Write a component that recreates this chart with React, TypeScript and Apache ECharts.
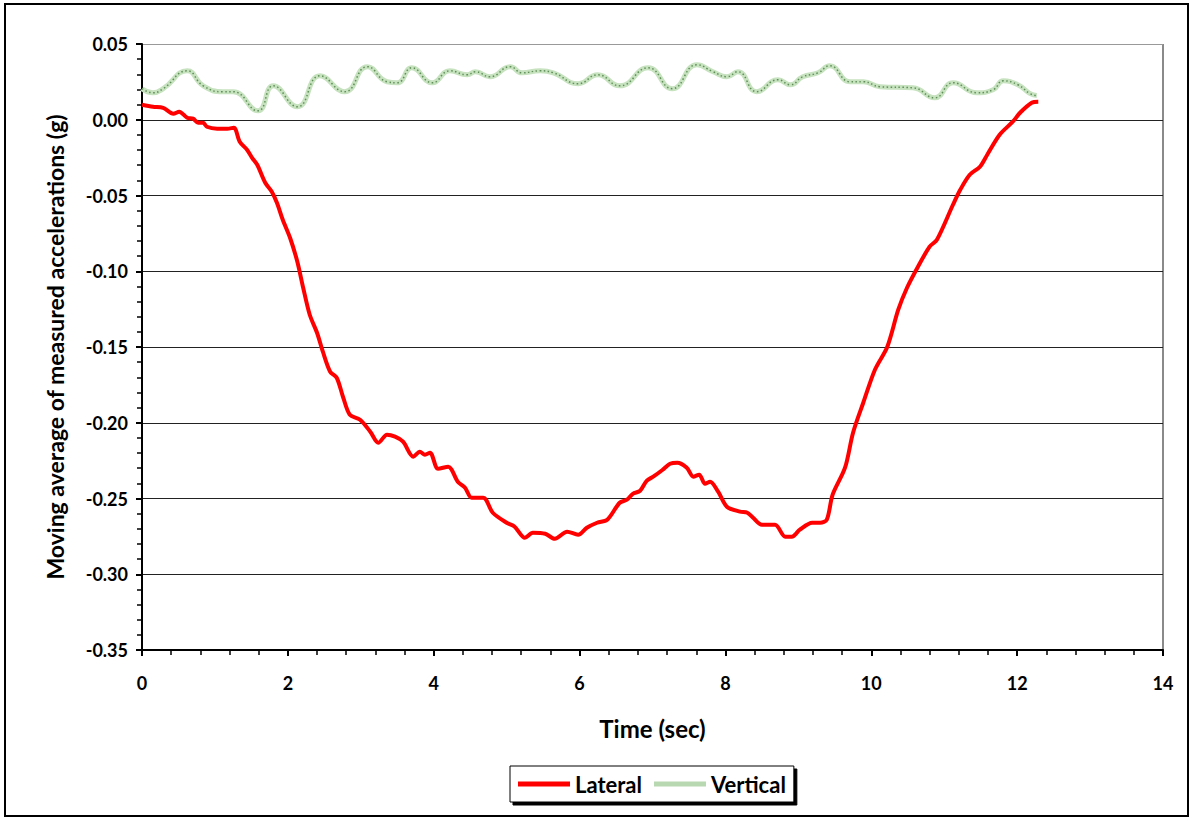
import React, { useEffect, useRef } from "react";
import * as echarts from "echarts";

const lateralTime = [0.00, 0.15, 0.29, 0.43, 0.51, 0.62, 0.70, 0.77, 0.84, 0.89, 1.03, 1.17, 1.26, 1.34, 1.44, 1.51, 1.58, 1.69, 1.78, 1.85, 1.93, 2.03, 2.13, 2.21, 2.30, 2.40, 2.48, 2.58, 2.67, 2.76, 2.85, 2.99, 3.13, 3.24, 3.36, 3.47, 3.58, 3.72, 3.81, 3.88, 3.95, 4.06, 4.20, 4.33, 4.43, 4.52, 4.68, 4.81, 5.00, 5.11, 5.25, 5.36, 5.53, 5.66, 5.83, 5.98, 6.10, 6.24, 6.38, 6.55, 6.65, 6.73, 6.83, 6.92, 7.01, 7.14, 7.24, 7.34, 7.47, 7.56, 7.64, 7.72, 7.79, 7.90, 8.02, 8.20, 8.30, 8.38, 8.50, 8.68, 8.82, 8.91, 9.02, 9.19, 9.30, 9.39, 9.47, 9.64, 9.75, 9.89, 10.05, 10.22, 10.37, 10.49, 10.64, 10.80, 10.90, 11.12, 11.22, 11.35, 11.49, 11.59, 11.76, 11.94, 12.04, 12.20, 12.29];
const lateralValue = [0.0099, 0.0086, 0.0079, 0.0040, 0.0053, 0.0013, 0.0007, -0.0020, -0.0020, -0.0046, -0.0059, -0.0059, -0.0053, -0.0145, -0.0198, -0.0251, -0.0297, -0.0416, -0.0475, -0.0548, -0.0660, -0.0779, -0.0937, -0.1109, -0.1287, -0.1406, -0.1531, -0.1663, -0.1703, -0.1835, -0.1947, -0.1980, -0.2059, -0.2132, -0.2079, -0.2092, -0.2125, -0.2224, -0.2191, -0.2211, -0.2198, -0.2304, -0.2290, -0.2389, -0.2429, -0.2495, -0.2495, -0.2594, -0.2660, -0.2686, -0.2759, -0.2726, -0.2733, -0.2766, -0.2719, -0.2739, -0.2693, -0.2660, -0.2640, -0.2528, -0.2508, -0.2469, -0.2449, -0.2383, -0.2356, -0.2310, -0.2271, -0.2264, -0.2297, -0.2356, -0.2343, -0.2403, -0.2389, -0.2455, -0.2554, -0.2587, -0.2594, -0.2627, -0.2673, -0.2673, -0.2752, -0.2752, -0.2706, -0.2660, -0.2660, -0.2640, -0.2475, -0.2297, -0.2066, -0.1868, -0.1650, -0.1498, -0.1254, -0.1109, -0.0970, -0.0838, -0.0792, -0.0561, -0.0462, -0.0363, -0.0310, -0.0231, -0.0099, -0.0013, 0.0046, 0.0112, 0.0119];

const verticalTime = [0.00, 0.15, 0.29, 0.62, 0.84, 1.11, 1.25, 1.59, 1.80, 2.13, 2.44, 2.78, 3.09, 3.36, 3.50, 3.70, 3.98, 4.22, 4.46, 4.57, 4.77, 5.05, 5.21, 5.46, 5.64, 5.98, 6.25, 6.55, 6.94, 7.27, 7.61, 7.83, 8.02, 8.17, 8.43, 8.72, 8.89, 9.06, 9.27, 9.43, 9.71, 9.89, 10.12, 10.57, 10.87, 11.12, 11.45, 11.67, 11.81, 12.01, 12.18, 12.27];
const verticalValue = [0.0205, 0.0178, 0.0205, 0.0323, 0.0224, 0.0185, 0.0185, 0.0059, 0.0224, 0.0086, 0.0290, 0.0185, 0.0350, 0.0251, 0.0244, 0.0343, 0.0244, 0.0323, 0.0297, 0.0317, 0.0284, 0.0350, 0.0310, 0.0323, 0.0310, 0.0238, 0.0297, 0.0224, 0.0343, 0.0205, 0.0363, 0.0317, 0.0284, 0.0317, 0.0185, 0.0264, 0.0231, 0.0284, 0.0310, 0.0356, 0.0251, 0.0251, 0.0218, 0.0211, 0.0145, 0.0244, 0.0178, 0.0198, 0.0257, 0.0231, 0.0172, 0.0160];

const FONT = "Lato";

export default function App() {
  const ref = useRef<HTMLDivElement>(null);
  useEffect(() => {
    if (!ref.current) return;
    const chart = echarts.init(ref.current, null, { renderer: "svg" });
    const lateral = lateralTime.map((t, i) => [t, lateralValue[i]]);
    const vertical = verticalTime.map((t, i) => [t, verticalValue[i]]);
    chart.setOption({
      animation: false,
      backgroundColor: "#ffffff",
      grid: { left: 142, top: 44, right: 31, bottom: 171, containLabel: false },
      graphic: [
        {
          type: "rect",
          shape: { x: 5, y: 4, width: 1183, height: 812 },
          style: { fill: "none", stroke: "#000", lineWidth: 2 },
          silent: true,
        },
        {
          type: "line",
          shape: { x1: 1163, y1: 44, x2: 1163, y2: 650 },
          style: { stroke: "#8a8a8a", lineWidth: 2 },
          silent: true,
        },
      ],
      legend: {
        left: 510,
        top: 766,
        padding: [7, 8, 7, 8],
        itemGap: 12,
        itemWidth: 52,
        itemHeight: 5,
        borderColor: "#000",
        borderWidth: 1,
        backgroundColor: "#fff",
        shadowColor: "rgba(0,0,0,1)",
        shadowOffsetX: 3,
        shadowOffsetY: 3,
        shadowBlur: 0,
        textStyle: { fontFamily: FONT, fontSize: 22, fontWeight: "bold", color: "#000" },
        data: [
          { name: "Lateral", icon: "rect", itemStyle: { color: "#ff0000" } },
          { name: "Vertical", icon: "rect", itemStyle: { color: "#b7d8b0" } },
        ],
      },
      xAxis: {
        type: "value",
        min: 0,
        max: 14,
        interval: 2,
        name: "Time (sec)",
        nameLocation: "middle",
        nameGap: 66,
        nameTextStyle: { fontFamily: FONT, fontSize: 24, fontWeight: "bold", color: "#000" },
        axisLine: { show: true, onZero: false, lineStyle: { color: "#000", width: 2 } },
        axisTick: { show: true, length: 6, lineStyle: { color: "#000", width: 2 } },
        minorTick: { show: true, splitNumber: 5, length: 5, lineStyle: { color: "#000", width: 1.5 } },
        axisLabel: { margin: 24, fontFamily: FONT, fontSize: 18, fontWeight: "bold", color: "#000" },
        splitLine: { show: false },
      },
      yAxis: {
        type: "value",
        min: -0.35,
        max: 0.05,
        interval: 0.05,
        name: "Moving average of measured accelerations (g)",
        nameLocation: "middle",
        nameGap: 76,
        nameTextStyle: { fontFamily: FONT, fontSize: 23, fontWeight: "bold", color: "#000" },
        axisLine: { show: true, lineStyle: { color: "#000", width: 2 } },
        axisTick: { show: true, length: 6, lineStyle: { color: "#000", width: 2 } },
        minorTick: { show: true, splitNumber: 5, length: 5, lineStyle: { color: "#000", width: 1.5 } },
        axisLabel: {
          margin: 14,
          fontFamily: FONT,
          fontSize: 18,
          fontWeight: "bold",
          color: "#000",
          formatter: (v: number) => v.toFixed(2),
        },
        splitLine: {
          show: true,
          lineStyle: {
            color: ["#222", "#222", "#222", "#222", "#222", "#222", "#222", "#222", "#999"],
            width: 1.2,
          },
        },
      },
      series: [
        {
          name: "Vertical",
          type: "line",
          data: vertical,
          smooth: 0.5,
          showSymbol: false,
          lineStyle: { color: "#c6e2bf", width: 5 },
          itemStyle: { color: "#b7d8b0" },
          z: 2,
        },
        {
          name: "VerticalDots",
          type: "line",
          data: vertical,
          smooth: 0.5,
          showSymbol: false,
          lineStyle: { color: "#5f8f57", width: 1.5, type: [1.5, 2.5] },
          z: 3,
          silent: true,
        },
        {
          name: "Lateral",
          type: "line",
          data: lateral,
          smooth: 0.3,
          showSymbol: false,
          lineStyle: { color: "#ff0000", width: 4 },
          itemStyle: { color: "#ff0000" },
          z: 4,
        },
      ],
    });
    return () => chart.dispose();
  }, []);
  return (
    <div
      ref={ref}
      style={{ position: "absolute", left: 0, top: 0, width: 1194, height: 821 }}
    />
  );
}
